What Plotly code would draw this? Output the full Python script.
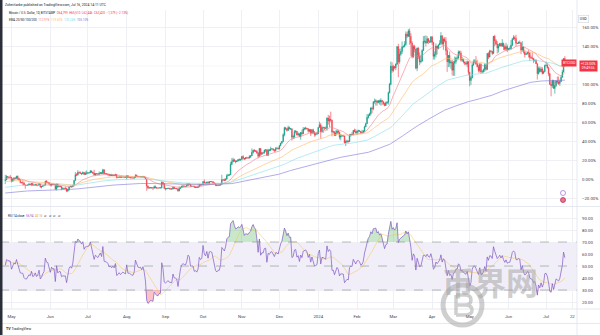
import numpy as np
import pandas as pd
import plotly.graph_objects as go

# ---------------- data (BTC/USD daily, thousands of USD) ----------------
START, END = "2023-04-26", "2024-07-16"
FIRST_OPEN = 28.30

CLOSE = [
    # Apr 2023 (26-30)
    28.44, 29.47, 29.34, 29.25, 29.23,
    # May 2023
    28.07, 28.67, 29.03, 28.85, 29.53, 28.90, 28.45, 27.68, 27.63, 27.62, 26.99, 26.80, 26.78, 26.93, 27.17, 27.03,
    27.40, 26.83, 26.89, 27.12, 26.75, 26.85, 27.22, 26.33, 26.47, 26.72, 26.87, 28.08, 27.74, 27.70, 27.22,
    # Jun 2023
    26.82, 27.25, 27.07, 27.12, 25.76, 27.24, 26.35, 26.50, 26.48, 25.85, 25.94, 25.90, 25.92, 25.12, 25.58, 26.33,
    26.51, 26.34, 26.84, 28.31, 30.00, 29.89, 30.69, 30.55, 30.47, 30.27, 30.69, 30.08, 30.45, 30.48,
    # Jul 2023
    30.59, 30.62, 31.15, 30.77, 30.50, 29.90, 30.35, 30.29, 30.17, 30.41, 30.62, 30.39, 31.48, 30.32, 30.30, 30.25,
    30.14, 29.86, 29.91, 29.80, 29.91, 29.79, 30.08, 29.18, 29.23, 29.35, 29.21, 29.31, 29.35, 29.28, 29.23,
    # Aug 2023
    29.70, 29.18, 29.19, 29.11, 29.07, 29.05, 29.18, 29.77, 29.58, 29.43, 29.40, 29.42, 29.31, 29.43, 29.20, 28.70,
    26.62, 26.05, 26.10, 26.19, 26.12, 26.04, 26.43, 26.17, 26.05, 26.00, 26.09, 26.10, 27.73, 27.30, 25.94,
    # Sep 2023
    25.80, 25.87, 25.97, 25.81, 25.78, 25.75, 26.24, 25.91, 25.89, 25.83, 25.16, 25.84, 26.23, 26.53, 26.61, 26.56,
    26.53, 26.76, 27.21, 27.13, 26.57, 26.58, 26.58, 26.26, 26.30, 26.21, 26.35, 27.02, 26.91, 26.97,
    # Oct 2023
    27.98, 27.53, 27.43, 27.79, 27.41, 27.95, 27.97, 27.94, 27.59, 27.39, 26.87, 26.76, 26.86, 26.86, 27.16, 28.52,
    28.42, 28.33, 28.72, 29.68, 29.92, 29.99, 33.09, 33.92, 34.50, 34.16, 33.91, 34.09, 34.54, 34.50, 34.66,
    # Nov 2023
    35.44, 34.94, 34.73, 35.08, 35.05, 35.04, 35.43, 35.65, 36.69, 37.32, 37.14, 37.06, 36.50, 35.54, 37.88, 36.15,
    36.60, 36.58, 37.39, 37.47, 35.81, 37.42, 37.29, 37.72, 37.79, 37.45, 37.24, 37.83, 37.85, 37.72,
    # Dec 2023
    38.69, 39.46, 39.98, 41.98, 44.08, 43.77, 43.29, 44.17, 43.72, 43.79, 41.24, 41.45, 42.89, 43.02, 41.93, 42.24,
    41.36, 42.66, 42.26, 43.67, 43.86, 43.99, 43.74, 43.02, 43.58, 42.51, 43.44, 42.58, 42.07, 42.14, 42.28,
    # Jan 2024
    44.18, 44.95, 42.83, 44.18, 44.16, 43.97, 43.93, 46.97, 46.11, 46.63, 46.34, 42.78, 42.84, 41.73, 42.51, 43.15,
    42.74, 41.26, 41.62, 41.66, 41.58, 39.57, 39.88, 40.08, 39.94, 41.82, 42.12, 42.03, 43.30, 42.94, 42.58,
    # Feb 2024
    43.08, 43.19, 42.99, 42.58, 42.66, 43.08, 44.34, 45.29, 47.13, 47.75, 48.29, 49.96, 49.74, 51.83, 51.94, 52.14,
    51.64, 52.14, 51.78, 52.28, 51.84, 51.30, 50.73, 51.57, 51.73, 54.52, 57.09, 62.50, 61.20,
    # Mar 2024
    62.44, 62.03, 63.17, 68.33, 63.80, 66.11, 66.93, 68.30, 68.50, 69.02, 72.10, 71.45, 73.07, 71.39, 69.40, 65.32,
    68.39, 67.59, 61.91, 67.91, 65.49, 63.78, 64.04, 67.21, 69.96, 69.99, 69.45, 70.74, 69.89, 69.66, 71.33,
    # Apr 2024
    69.70, 65.48, 65.97, 68.49, 67.83, 68.89, 69.35, 71.62, 69.14, 70.59, 70.06, 67.19, 63.81, 65.74, 63.42, 63.79,
    61.28, 63.47, 63.82, 64.94, 64.94, 66.84, 66.41, 64.28, 64.48, 63.76, 63.42, 63.12, 63.84, 60.64,
    # May 2024
    58.25, 59.10, 62.89, 63.89, 64.03, 63.16, 62.31, 61.19, 63.07, 60.79, 60.83, 61.48, 62.93, 61.55, 66.27, 65.23,
    67.05, 66.94, 66.28, 71.45, 70.14, 69.12, 67.93, 68.53, 69.27, 68.52, 69.39, 68.31, 67.58, 68.36, 67.49,
    # Jun 2024
    67.71, 67.75, 68.80, 70.55, 71.08, 70.79, 69.35, 69.31, 69.65, 69.51, 67.32, 68.24, 66.76, 66.01, 66.19, 66.64,
    66.49, 65.15, 64.96, 64.83, 64.10, 64.25, 63.18, 60.28, 61.80, 60.86, 61.68, 60.32, 60.89, 62.68,
    # Jul 2024 (1-16)
    62.77, 62.03, 60.20, 57.06, 56.66, 58.23, 55.85, 56.70, 58.05, 57.73, 57.34, 57.90, 59.20, 60.79, 64.799, 63.42,
]

HIGH = [
    30.0, 29.9, 29.6, 29.4, 29.95,
    29.3, 28.9, 29.3, 29.3, 29.7, 29.8, 29.1, 28.6, 27.8, 28.3, 27.6, 27.0, 27.0, 27.2, 27.6, 27.3,
    27.5, 27.4, 27.2, 27.2, 27.2, 27.0, 27.5, 27.2, 26.6, 26.9, 26.9, 28.2, 28.4, 28.0, 27.8,
    27.3, 27.3, 27.3, 27.4, 27.1, 27.4, 27.3, 26.8, 26.8, 26.5, 26.2, 26.1, 26.4, 26.1, 25.8, 26.5,
    26.8, 26.7, 27.0, 28.4, 30.8, 30.5, 31.4, 31.0, 31.0, 30.6, 31.0, 30.7, 31.0, 31.3,
    30.7, 30.8, 31.4, 31.3, 30.9, 31.5, 30.4, 30.4, 30.4, 31.0, 30.8, 30.9, 31.8, 31.6, 30.4, 30.4,
    30.3, 30.2, 30.2, 30.3, 30.1, 30.0, 30.3, 30.1, 29.4, 29.7, 29.6, 29.5, 29.4, 29.4, 29.5,
    29.7, 29.9, 29.4, 29.3, 29.2, 29.2, 29.2, 30.2, 30.1, 29.7, 29.5, 29.5, 29.5, 29.7, 29.5, 29.3,
    28.8, 26.8, 26.3, 26.3, 26.3, 26.2, 26.8, 26.8, 26.3, 26.1, 26.2, 26.2, 28.1, 27.8, 27.5,
    26.1, 26.0, 26.1, 26.1, 25.9, 26.0, 26.4, 26.4, 25.9, 26.0, 25.9, 26.5, 26.4, 26.8, 26.9, 26.7,
    26.6, 27.4, 27.5, 27.4, 27.2, 26.7, 26.6, 26.7, 26.4, 26.4, 26.8, 27.3, 27.2, 27.1,
    28.0, 28.6, 27.7, 27.9, 28.1, 28.0, 28.0, 28.1, 28.0, 27.7, 27.5, 26.9, 27.0, 26.9, 27.3, 30.0,
    28.6, 28.9, 28.9, 30.2, 30.3, 30.2, 33.9, 35.0, 35.1, 34.8, 34.2, 34.4, 34.7, 34.9, 34.7,
    35.6, 35.9, 35.0, 35.3, 35.4, 35.3, 35.9, 35.9, 37.9, 37.5, 37.7, 37.4, 37.4, 36.8, 38.0, 37.9,
    36.8, 36.9, 37.5, 37.7, 37.6, 37.8, 37.7, 38.4, 37.9, 37.8, 37.6, 38.3, 38.4, 38.2,
    38.9, 39.6, 40.0, 42.4, 44.4, 44.3, 44.0, 44.7, 44.4, 44.0, 43.8, 42.0, 43.4, 43.4, 43.1, 42.7,
    42.4, 42.7, 43.5, 44.3, 44.2, 44.4, 44.0, 43.9, 43.6, 43.6, 43.7, 43.8, 43.1, 42.6, 42.9,
    44.2, 45.9, 45.5, 44.7, 44.4, 44.2, 44.5, 47.2, 47.9, 47.7, 48.9, 46.5, 43.2, 43.0, 43.3, 43.5,
    43.2, 42.9, 42.2, 41.9, 41.8, 41.7, 40.5, 40.5, 40.3, 42.2, 42.2, 42.8, 43.3, 43.8, 43.7,
    43.3, 43.5, 43.4, 43.1, 43.5, 43.4, 44.7, 45.6, 48.2, 48.2, 48.6, 50.3, 50.4, 52.0, 52.8, 52.6,
    52.2, 52.4, 52.5, 52.9, 52.4, 52.0, 51.6, 51.9, 52.0, 54.9, 57.5, 63.9, 63.7,
    62.9, 62.5, 63.3, 68.5, 69.2, 67.7, 67.8, 69.9, 68.6, 70.0, 72.9, 72.8, 73.6, 73.8, 72.4, 70.0,
    68.9, 68.9, 67.7, 68.1, 68.2, 66.6, 65.9, 67.6, 71.5, 71.6, 71.7, 71.5, 70.9, 70.3, 71.4,
    71.3, 69.7, 66.9, 69.3, 68.7, 69.0, 70.3, 72.7, 71.7, 71.0, 71.2, 71.2, 67.9, 65.8, 66.9, 64.3,
    64.4, 64.1, 65.4, 65.3, 65.7, 67.2, 67.2, 67.1, 65.3, 64.8, 63.9, 64.0, 64.2, 64.0,
    60.8, 59.6, 63.3, 64.5, 64.6, 65.5, 64.4, 62.9, 63.4, 63.4, 61.4, 61.8, 63.4, 63.0, 66.5, 66.7,
    67.4, 67.4, 67.0, 71.5, 71.9, 70.6, 70.0, 69.2, 69.5, 69.5, 70.6, 69.5, 68.9, 69.5, 69.0,
    67.9, 68.4, 70.3, 71.0, 71.8, 71.6, 71.9, 69.5, 69.9, 70.2, 69.6, 70.0, 68.4, 67.3, 66.5, 66.9,
    67.3, 66.6, 65.7, 66.5, 65.0, 64.5, 64.6, 63.4, 62.4, 62.4, 62.3, 62.2, 61.2, 63.0,
    63.8, 63.3, 62.3, 60.5, 58.0, 58.5, 58.4, 58.2, 58.3, 59.4, 59.4, 58.5, 59.8, 61.4, 64.9, 65.51,
]

LOW = [
    27.2, 28.4, 29.0, 29.0, 29.1,
    27.7, 27.9, 28.1, 28.7, 28.8, 28.4, 28.3, 27.4, 27.4, 26.8, 26.8, 25.8, 26.7, 26.7, 26.9, 26.9,
    26.6, 26.7, 26.7, 26.8, 26.7, 26.6, 26.8, 26.1, 25.9, 26.4, 26.6, 26.8, 27.6, 27.6, 26.9,
    26.6, 26.5, 26.9, 26.9, 25.4, 25.3, 26.1, 26.3, 26.3, 25.4, 25.6, 25.7, 25.8, 24.8, 24.8, 25.2,
    26.3, 26.2, 26.3, 26.7, 28.3, 29.6, 29.8, 30.3, 30.3, 29.9, 30.2, 29.9, 30.0, 30.0,
    30.3, 30.3, 30.6, 30.6, 30.2, 29.8, 29.8, 30.1, 30.0, 29.9, 30.3, 30.2, 30.2, 30.2, 30.2, 30.1,
    29.7, 29.5, 29.7, 29.6, 29.6, 29.7, 29.7, 28.9, 29.0, 29.0, 29.1, 29.1, 29.2, 29.0, 29.1,
    28.6, 29.0, 29.0, 28.9, 29.0, 28.8, 28.7, 29.1, 29.4, 29.3, 29.4, 29.3, 29.3, 29.2, 29.1, 28.7,
    25.2, 25.7, 25.8, 25.9, 25.8, 25.4, 25.8, 25.9, 25.8, 25.9, 26.0, 25.9, 25.9, 27.0, 25.7,
    25.3, 25.6, 25.8, 25.6, 25.6, 25.4, 25.6, 25.7, 25.8, 25.6, 24.9, 25.1, 25.8, 26.1, 26.2, 26.5,
    26.4, 26.4, 26.7, 26.9, 26.4, 26.5, 26.5, 26.1, 26.0, 26.1, 26.0, 26.3, 26.7, 26.8,
    26.9, 27.3, 27.2, 27.2, 27.3, 27.2, 27.8, 27.7, 27.3, 27.3, 26.6, 26.6, 26.7, 26.8, 26.8, 27.1,
    28.1, 28.1, 28.2, 28.6, 29.6, 29.7, 29.9, 32.9, 33.7, 33.8, 33.4, 33.8, 34.0, 34.1, 34.1,
    34.3, 34.5, 34.4, 34.6, 34.8, 34.8, 34.8, 35.0, 35.6, 36.3, 36.8, 36.8, 36.3, 35.0, 35.4, 35.6,
    35.9, 36.2, 36.3, 36.8, 35.7, 35.6, 37.0, 37.2, 37.6, 37.1, 36.8, 36.9, 37.6, 37.6,
    37.6, 38.6, 39.3, 39.9, 41.5, 43.4, 42.9, 43.1, 43.6, 43.4, 40.2, 40.7, 40.9, 42.4, 41.7, 41.7,
    41.3, 40.5, 41.8, 42.2, 43.3, 43.4, 43.6, 42.6, 42.8, 41.6, 42.1, 42.3, 41.4, 41.5, 42.0,
    42.2, 44.2, 40.8, 42.6, 42.5, 43.4, 43.6, 43.2, 45.0, 44.3, 45.7, 41.5, 42.4, 41.7, 41.7, 42.1,
    42.2, 40.6, 40.3, 41.4, 41.5, 39.4, 38.6, 39.5, 39.6, 39.8, 41.4, 41.8, 41.8, 42.7, 42.3,
    41.9, 42.6, 42.9, 42.3, 42.3, 42.6, 42.8, 44.3, 45.3, 46.8, 47.6, 47.7, 48.4, 49.3, 51.3, 50.7,
    50.7, 51.4, 51.0, 50.7, 50.8, 50.9, 50.5, 50.6, 51.2, 51.0, 54.4, 56.8, 60.5,
    60.8, 61.6, 61.3, 62.8, 59.2, 63.2, 65.6, 66.1, 68.0, 68.1, 68.6, 70.9, 71.3, 68.9, 65.6, 64.8,
    65.0, 66.6, 61.6, 61.0, 64.6, 62.8, 63.3, 63.8, 67.1, 69.3, 68.4, 69.3, 69.1, 69.6, 69.6,
    68.8, 64.5, 64.5, 65.1, 66.0, 67.5, 68.8, 68.9, 68.7, 67.4, 69.6, 65.8, 60.8, 62.2, 62.3, 61.7,
    59.7, 59.6, 59.6, 63.1, 64.2, 64.5, 65.7, 63.9, 63.8, 63.3, 62.8, 62.8, 62.2, 59.8,
    56.5, 56.9, 58.8, 62.6, 63.4, 62.9, 62.2, 60.6, 60.6, 60.2, 60.4, 60.6, 60.8, 61.1, 61.3, 64.6,
    65.1, 66.6, 65.8, 66.2, 68.5, 68.8, 66.3, 66.6, 68.5, 68.3, 68.3, 67.3, 67.2, 67.1, 66.7,
    67.3, 67.4, 67.6, 68.5, 70.4, 70.1, 68.5, 69.1, 69.2, 69.2, 66.1, 66.9, 66.3, 65.1, 65.9, 66.0,
    65.1, 64.1, 64.7, 64.5, 63.4, 63.9, 63.2, 58.5, 60.0, 60.6, 60.7, 60.0, 60.4, 60.7,
    62.5, 61.8, 59.5, 56.9, 53.5, 56.0, 55.8, 54.3, 56.3, 57.2, 56.9, 56.6, 57.8, 59.1, 60.6, 62.446,
]

EMA_PERIODS = [20, 50, 100, 200]
EMA_SEED = [28.8, 27.9, 26.2, 24.5]          # EMA values just before first visible bar
EMA_COLORS = ["#f47c85", "#ffb868", "#86dde9", "#7d74dc"]
RSI_LEN = 14
RSI_SEED_GAIN, RSI_SEED_LOSS = 0.40, 0.40

Y_TICKS = [-20, 0, 20, 40, 60, 80, 100, 120, 140, 160]
Y_HIDDEN_LABEL = 120                          # covered by the last-price label
RSI_TICKS = [20, 30, 40, 50, 60, 70, 80, 90]
X_TICKVALS = ["2023-05-01", "2023-06-01", "2023-07-01", "2023-08-01", "2023-09-01", "2023-10-01",
              "2023-11-01", "2023-12-01", "2024-01-01", "2024-02-01", "2024-03-01", "2024-04-01",
              "2024-05-01", "2024-06-01", "2024-07-01", "2024-07-22"]
X_TICKTEXT = ["May", "Jun", "Jul", "Aug", "Sep", "Oct", "Nov", "Dec", "2024", "Feb", "Mar", "Apr",
              "May", "Jun", "Jul", "22"]

# ---------------- computations ----------------
dates = pd.date_range(START, END, freq="D")
close = np.array(CLOSE)
opn = np.array([FIRST_OPEN] + CLOSE[:-1])
high = np.maximum.reduce([np.array(HIGH), opn, close])
low = np.minimum.reduce([np.array(LOW), opn, close])
assert len(dates) == len(close) == len(HIGH) == len(LOW)

base = close[0]
pct = lambda v: (np.asarray(v) / base - 1) * 100

emas = []
for n, seed in zip(EMA_PERIODS, EMA_SEED):
    a = 2 / (n + 1)
    e, out = seed, []
    for c in close:
        e = a * c + (1 - a) * e
        out.append(e)
    emas.append(np.array(out))

prev = np.concatenate([[FIRST_OPEN], close[:-1]])
ch = close - prev
ag, al, rsi = RSI_SEED_GAIN, RSI_SEED_LOSS, []
for d in ch:
    ag = (ag * (RSI_LEN - 1) + max(d, 0)) / RSI_LEN
    al = (al * (RSI_LEN - 1) + max(-d, 0)) / RSI_LEN
    rsi.append(100 - 100 / (1 + ag / al) if al > 0 else 100)
rsi = np.array(rsi)
rsi_ma = pd.Series(rsi).rolling(RSI_LEN, min_periods=1).mean().values

UP, DOWN = "#089981", "#f23645"
FONT = "Roboto"
TXT = "#131722"

# ---------------- figure ----------------
fig = go.Figure()
fig.add_trace(go.Candlestick(
    x=dates, open=pct(opn), high=pct(high), low=pct(low), close=pct(close),
    increasing=dict(line=dict(color=UP, width=0.6), fillcolor=UP),
    decreasing=dict(line=dict(color=DOWN, width=0.6), fillcolor=DOWN),
    whiskerwidth=0, showlegend=False, hoverinfo="skip", xaxis="x", yaxis="y"))
for e, col in zip(emas, EMA_COLORS):
    fig.add_trace(go.Scatter(x=dates, y=pct(e), mode="lines", line=dict(color=col, width=0.6),
                             showlegend=False, hoverinfo="skip", xaxis="x", yaxis="y"))

# RSI fills
n = len(dates)
fig.add_trace(go.Scatter(x=dates, y=[70] * n, mode="lines", line=dict(width=0), showlegend=False,
                         hoverinfo="skip", xaxis="x2", yaxis="y2"))
fig.add_trace(go.Scatter(x=dates, y=np.maximum(rsi, 70), mode="lines", line=dict(width=0), fill="tonexty",
                         fillcolor="rgba(76,175,80,0.30)", showlegend=False, hoverinfo="skip",
                         xaxis="x2", yaxis="y2"))
fig.add_trace(go.Scatter(x=dates, y=[30] * n, mode="lines", line=dict(width=0), showlegend=False,
                         hoverinfo="skip", xaxis="x2", yaxis="y2"))
fig.add_trace(go.Scatter(x=dates, y=np.minimum(rsi, 30), mode="lines", line=dict(width=0), fill="tonexty",
                         fillcolor="rgba(242,54,69,0.30)", showlegend=False, hoverinfo="skip",
                         xaxis="x2", yaxis="y2"))
fig.add_trace(go.Scatter(x=dates, y=rsi_ma, mode="lines", line=dict(color="rgba(245,196,70,0.7)", width=0.7),
                         showlegend=False, hoverinfo="skip", xaxis="x2", yaxis="y2"))
fig.add_trace(go.Scatter(x=dates, y=rsi, mode="lines", line=dict(color="#7e57c2", width=0.7),
                         showlegend=False, hoverinfo="skip", xaxis="x2", yaxis="y2"))

# layout geometry (pixels)
W, H = 600, 335
ML, MR, MT, MB = 0, 23, 10, 26
PW, PH = W - ML - MR, H - MT - MB
def px(x): return (x - ML) / PW
def py(y): return (H - MB - y) / PH

XR = ["2023-04-21 19:30", "2024-07-25 17:00"]
GRID = "#eef0f4"
tickfont = dict(family=FONT, size=4.3, color="#3d414c")

ax_common = dict(type="date", range=XR, tickvals=X_TICKVALS, showgrid=True, gridcolor=GRID, gridwidth=0.6,
                 zeroline=False, showline=False, ticks="", rangeslider=dict(visible=False), fixedrange=True)
y_lab = [v for v in Y_TICKS if v != Y_HIDDEN_LABEL]
fig.update_layout(
    width=W, height=H, margin=dict(l=ML, r=MR, t=MT, b=MB),
    paper_bgcolor="white", plot_bgcolor="white", font=dict(family=FONT, color=TXT),
    xaxis=dict(**ax_common, domain=[0, 1], anchor="y", showticklabels=False),
    xaxis2=dict(**ax_common, domain=[0, 1], anchor="y2", ticktext=X_TICKTEXT, tickfont=tickfont,
                ticklabelstandoff=4),
    yaxis=dict(domain=[py(206), 1], range=[-27.4, 178.9], side="right", tickvals=y_lab,
               ticktext=[f"{v:.2f}%".replace("-", "\u2212") for v in y_lab], tickfont=tickfont,
               showgrid=True, gridcolor=GRID, gridwidth=0.6, zeroline=False, ticks="",
               ticklabelstandoff=4, anchor="x"),
    yaxis2=dict(domain=[0, py(207)], range=[14.2, 99.2], side="right", tickvals=RSI_TICKS,
                ticktext=[f"{v:.2f}" for v in RSI_TICKS], tickfont=tickfont,
                showgrid=True, gridcolor=GRID, gridwidth=0.6, zeroline=False, ticks="",
                ticklabelstandoff=4, anchor="x2"),
    showlegend=False,
)

shapes = [
    dict(type="line", xref="paper", yref="y", x0=0, x1=1, y0=Y_HIDDEN_LABEL, y1=Y_HIDDEN_LABEL,
         line=dict(color=GRID, width=0.6), layer="below"),
    dict(type="rect", xref="paper", yref="y2", x0=0, x1=1, y0=30, y1=70,
         fillcolor="rgba(126,87,194,0.10)", line=dict(width=0), layer="below"),
]
for lvl in (70, 50, 30):
    shapes.append(dict(type="line", xref="paper", yref="y2", x0=0, x1=1, y0=lvl, y1=lvl,
                       line=dict(color="#8a8d96", width=0.6, dash="dash")))
BORDER = "#e0e3eb"
WM = "rgba(160,160,160,0.5)"
shapes += [
    dict(type="line", xref="paper", yref="paper", x0=1, x1=1, y0=py(335), y1=py(0), line=dict(color=BORDER, width=0.8)),
    dict(type="line", xref="paper", yref="paper", x0=0, x1=px(600), y0=py(206.5), y1=py(206.5), line=dict(color=BORDER, width=0.8)),
    dict(type="line", xref="paper", yref="paper", x0=0, x1=px(600), y0=0, y1=0, line=dict(color=BORDER, width=0.8)),
    dict(type="line", xref="paper", yref="paper", x0=0, x1=px(600), y0=py(323.5), y1=py(323.5), line=dict(color=BORDER, width=0.8)),
    dict(type="rect", xref="paper", yref="paper", x0=0, x1=px(2.5), y0=py(335), y1=py(0),
         fillcolor="#2a2e39", line=dict(width=0)),
    # event markers
    dict(type="circle", xref="paper", yref="paper", x0=px(560.5), x1=px(565.5), y0=py(195.5), y1=py(190.5),
         fillcolor="white", line=dict(color="#9c6ade", width=0.7)),
    dict(type="circle", xref="paper", yref="paper", x0=px(560.5), x1=px(565.5), y0=py(202.5), y1=py(197.5),
         fillcolor="#e57b86", line=dict(color="#c2185b", width=0.7)),
    # watermark ring with a "B" drawn as strokes
    dict(type="circle", xref="paper", yref="paper", x0=px(443), x1=px(482), y0=py(325), y1=py(285),
         fillcolor="rgba(0,0,0,0)", line=dict(color=WM, width=5)),
    dict(type="path", xref="paper", yref="paper",
         path=(f"M {px(456)} {py(295)} L {px(456)} {py(315)} "
               f"M {px(456)} {py(295)} L {px(465)} {py(295)} Q {px(471)} {py(295)} {px(471)} {py(300)} "
               f"Q {px(471)} {py(305)} {px(465)} {py(305)} L {px(456)} {py(305)} "
               f"M {px(465)} {py(305)} Q {px(472)} {py(305)} {px(472)} {py(310)} "
               f"Q {px(472)} {py(315)} {px(465)} {py(315)} L {px(456)} {py(315)}"),
         line=dict(color=WM, width=3.5)),
]
fig.update_layout(shapes=shapes)

last = pct(close[-1])
chg = close[-1] - opn[-1]
def fmt(v): return f"{v * 1000:,.0f}"
ema_vals = [pct(e[-1]) for e in emas]
ann = []
ann.append(dict(text="Zoheirlanke published on TradingView.com, Jul 16, 2024 14:11 UTC",
                x=px(3), y=py(5), xref="paper", yref="paper", xanchor="left", yanchor="middle",
                showarrow=False, font=dict(size=3.4, color=TXT)))
red = DOWN if chg < 0 else UP
ann.append(dict(
    text=(f"Bitcoin / U.S. Dollar, 1D, BITSTAMP  <span style='color:{red}'>O{fmt(opn[-1])}  H{fmt(high[-1])}  "
          f"L{fmt(low[-1])}  C{fmt(close[-1])}  {'−' if chg < 0 else '+'}{fmt(abs(chg))} "
          f"({'−' if chg < 0 else '+'}{abs(chg) / opn[-1] * 100:.2f}%)</span>"),
    x=px(7), y=py(13.5), xref="paper", yref="paper", xanchor="left", yanchor="middle",
    showarrow=False, font=dict(size=3.0, color=TXT)))
ann.append(dict(
    text="EMA 20/50/100/200  " + "  ".join(
        f"<span style='color:{c}'>{v:.2f}%</span>" for v, c in zip(ema_vals, EMA_COLORS)),
    x=px(7), y=py(20.5), xref="paper", yref="paper", xanchor="left", yanchor="middle",
    showarrow=False, font=dict(size=3.0, color=TXT)))
ann.append(dict(
    text=(f"RSI 14 close  <span style='color:#7e57c2'>{rsi[-1]:.2f}</span>  "
          f"<span style='color:#e0a800'>{rsi_ma[-1]:.2f}</span>  ∅  ∅  ∅  ∅"),
    x=px(6), y=py(215.5), xref="paper", yref="paper", xanchor="left", yanchor="middle",
    showarrow=False, font=dict(size=3.0, color=TXT)))
ann.append(dict(text="USD", x=px(588.5), y=py(15), xref="paper", yref="paper", showarrow=False,
                font=dict(size=3.6, color=TXT), bgcolor="white", bordercolor="#d1d4dc",
                borderwidth=0.6, borderpad=1.2))
ann.append(dict(text="BTCUSD", x=1, y=float(last), xref="paper", yref="y", xanchor="right",
                yanchor="middle", showarrow=False, font=dict(size=3.3, color="white"),
                bgcolor=red, borderpad=1))
ann.append(dict(text=f"{'+' if last >= 0 else '−'}{abs(last):.2f}%<br>09:49:56", x=px(579), y=float(last),
                xref="paper", yref="y", xanchor="left", yanchor="top", yshift=3.5, showarrow=False,
                font=dict(size=3.3, color="white"), bgcolor=red, borderpad=1, align="center"))
ann.append(dict(text="<b>TV</b> TradingView", x=px(4), y=py(329), xref="paper", yref="paper",
                xanchor="left", yanchor="middle", showarrow=False, font=dict(size=3.6, color=TXT)))
# watermark text
ann.append(dict(text="<b>币界网</b>", x=px(540), y=py(306), xref="paper", yref="paper", showarrow=False,
                font=dict(size=32, color=WM, family="Noto Sans CJK SC")))
fig.update_layout(annotations=ann)

fig.write_html("out.html")
